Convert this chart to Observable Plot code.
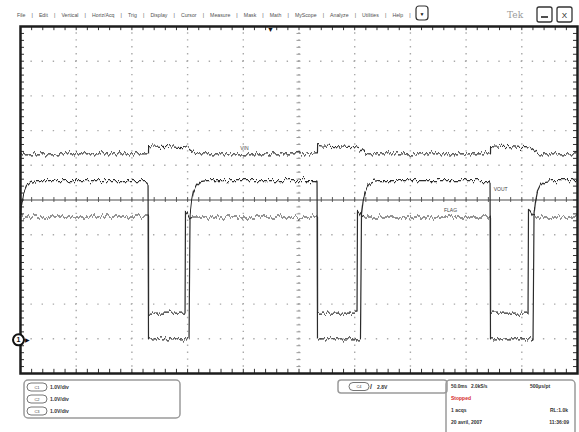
<!DOCTYPE html>
<html><head><meta charset="utf-8">
<script src="https://cdn.jsdelivr.net/npm/d3@7"></script>
<script src="https://cdn.jsdelivr.net/npm/@observablehq/plot@0.6"></script>
<style>
html,body{margin:0;padding:0;background:#fff;overflow:hidden}
#wrap{position:relative;width:579px;height:432px}
</style></head><body><div id="wrap"></div>
<script>
// ---- data (time in ms from left screen edge, 50 ms/div; level in graticule divisions from bottom) ----
const vinT  = [0,114.9,115.0,118,135,148.5,151,154,157.5,160, 266.6,266.7,270,287,302,304.5,307.5,310.5,313, 421.9,422.0,425,442,456,458.5,461.5,464.5,467,500];
const vinV  = [6.33,6.33,6.57,6.56,6.53,6.50,6.47,6.40,6.34,6.33, 6.33,6.57,6.56,6.53,6.50,6.47,6.40,6.34,6.33, 6.33,6.57,6.56,6.53,6.50,6.47,6.40,6.34,6.33,6.33];
const voutT = [0,0.9,2.7,5.4,9.0,14.4, 113.1,114.5,114.9,151.3,152.2,153.5,155.3,158.0,161.6,167.0, 265.2,266.2,266.6,305.2,306.1,307.5,309.3,312.0,315.5,321.0, 420.5,421.5,421.9,460.1,461.0,462.3,464.1,466.8,470.4,475.8, 500];
const voutV = [4.47,4.84,5.19,5.39,5.50,5.56, 5.56,5.50,1.00,1.00,4.60,4.95,5.24,5.42,5.53,5.56, 5.56,5.50,1.00,1.00,4.60,4.95,5.24,5.42,5.53,5.56, 5.56,5.50,1.00,1.00,4.60,4.95,5.24,5.42,5.53,5.56, 5.56];
const flagT = [0,114.9,115.0,147.7,148.1,149.5,151.5,154, 266.6,266.7,302.1,302.5,303.9,305.9,308.4, 421.9,422.0,455.6,456.0,457.4,459.4,461.9, 500];
const flagV = [4.51,4.51,1.74,1.74,4.70,4.66,4.55,4.51, 4.51,1.74,1.74,4.70,4.66,4.55,4.51, 4.51,1.74,1.74,4.70,4.66,4.55,4.51, 4.51];
const traceNames = ["VIN","VOUT","FLAG"];
const labelT = [201,431,386];
const labelV = [6.48,5.30,4.70];
const groundCh = "1";
const groundT = 0;
const groundV = 0.97;
const triggerT = 224.4;

const menuItems = ["File","Edit","Vertical","Horiz/Acq","Trig","Display","Cursor","Measure","Mask","Math","MyScope","Analyze","Utilities","Help"];
const chanNames = ["C1","C2","C3"];
const chanScales = ["1.0V/div","1.0V/div","1.0V/div"];
const trigChan = "C4";
const trigLevel = "2.8V";
const horizLeft = ["50.0ms","2.0kS/s"];
const horizRight = "500µs/pt";
const runState = "Stopped";
const acqRow = ["1 acqs","RL:1.0k"];
const dateRow = ["20 avril, 2007","11:36:09"];

// ---- tables ----
const toRows = (T,V) => T.map((t,i)=>({t, v:V[i]}));
const vin = toRows(vinT, vinV), vout = toRows(voutT, voutV), flag = toRows(flagT, flagV);
const labels = traceNames.map((n,i)=>({name:n, t:labelT[i], v:labelV[i]}));
const xMajor = d3.range(50, 500, 50);
const yMajor = d3.range(1, 10).filter(d => d !== 5);
const xMinor = d3.range(0, 500.01, 10);
const yMinor = d3.range(0, 50.01, 1).map(d => d/5);

const FONT = "Liberation Sans, Arial, sans-serif";
const trace = {x:"t", y:"v", stroke:"#2b2b2b", strokeWidth:1.2};

const plot = Plot.plot({
  width: 579, height: 432,
  marginLeft: 20, marginRight: 2, marginTop: 26, marginBottom: 59,
  x: {domain:[0,500], axis:null},
  y: {domain:[0,10], axis:null},
  style: {background:"white", fontFamily: FONT},
  marks: [
    Plot.ruleX(xMajor, {stroke:"#a9a9a9", strokeWidth:1.4, strokeDasharray:"1.4,5.54", strokeDashoffset:0.7}),
    Plot.ruleY(yMajor, {stroke:"#a9a9a9", strokeWidth:1.4, strokeDasharray:"1.4,9.74", strokeDashoffset:0.7}),
    Plot.ruleY([5], {stroke:"#4a4a4a", strokeWidth:1}),
    Plot.ruleX(xMinor, {y1: () => 4.93, y2: () => 5.07, stroke:"#555"}),
    Plot.ruleY(yMinor, {x1: () => 248.2, x2: () => 251.8, stroke:"#9a9a9a"}),
    Plot.ruleX(xMinor, {y1: () => 10, y2: () => 9.88, stroke:"#333"}),
    Plot.ruleX(xMinor, {y1: () => 0, y2: () => 0.12, stroke:"#333"}),
    Plot.ruleY(yMinor, {x1: () => 0, x2: () => 3.6, stroke:"#333"}),
    Plot.ruleY(yMinor, {x1: () => 500, x2: () => 496.4, stroke:"#333"}),
    Plot.line(vin, trace),
    Plot.line(vout, trace),
    Plot.line(flag, trace),
    Plot.frame({stroke:"#1c1c1c", strokeWidth:2.5}),
    Plot.text(labels, {x:"t", y:"v", text:"name", fontSize:5, fill:"#444"}),
    Plot.dot([groundCh], {x: () => groundT, y: () => groundV, r:5.5, dx:-2, fill:"white", stroke:"#111", strokeWidth:2}),
    Plot.text([groundCh], {x: () => groundT, y: () => groundV, text: d => d, dx:-2, fontSize:7, fontWeight:"bold", fill:"#111"}),
    Plot.text([groundCh], {x: () => groundT, y: () => groundV, text: () => "▶", dx:7, fontSize:6, fill:"#111"}),
    Plot.text([triggerT], {x: d => d, y: () => 10, text: () => "▼", dy:3, fontSize:7, fill:"#111"})
  ]
});
document.getElementById("wrap").append(plot);

// noisy acquisition look applied as a rendering style to the trace lines
const svg = d3.select(plot);
const defs = svg.insert("defs", ":first-child");
const f = defs.append("filter").attr("id","jit").attr("filterUnits","userSpaceOnUse")
  .attr("x",0).attr("y",0).attr("width",579).attr("height",432).attr("color-interpolation-filters","sRGB");
f.append("feTurbulence").attr("type","fractalNoise").attr("baseFrequency","0.45 0.03").attr("numOctaves",2).attr("seed",7).attr("result","n");
f.append("feColorMatrix").attr("in","n").attr("type","matrix").attr("values","0 0 0 0 0.5  0 1 0 0 0  0 0 0 0 0  0 0 0 0 1").attr("result","m");
f.append("feDisplacementMap").attr("in","SourceGraphic").attr("in2","m").attr("scale",9).attr("xChannelSelector","R").attr("yChannelSelector","G");
svg.selectAll('g[aria-label="line"]').attr("filter","url(#jit)");

// ---- instrument chrome ----
const ch = svg.append("g").attr("font-family", FONT).attr("text-anchor","start");
const menu = ch.append("text").attr("x",17).attr("y",16.5).attr("font-size",5.2).attr("fill","#505050").attr("text-anchor","start");
menuItems.forEach((m,i)=>{
  menu.append("tspan").attr("dx", i ? 6.1 : 0).text(m);
  menu.append("tspan").attr("dx", 6.1).text("|");
});
ch.append("rect").attr("x",416).attr("y",6).attr("width",12).attr("height",14).attr("rx",3).attr("fill","white").attr("stroke","#333").attr("stroke-width",1.2);
ch.append("text").attr("x",422).attr("y",15.5).attr("text-anchor","middle").attr("font-size",5).attr("fill","#111").text("▼");
ch.append("text").attr("x",507).attr("y",18).attr("text-anchor","start").attr("font-size",9).attr("font-family","DejaVu Serif, serif").attr("fill","#9a9a9a").text("Tek");
ch.append("rect").attr("x",537).attr("y",7).attr("width",15).attr("height",15).attr("rx",2).attr("fill","white").attr("stroke","#333").attr("stroke-width",1.3);
ch.append("line").attr("x1",541).attr("x2",548).attr("y1",17).attr("y2",17).attr("stroke","#222").attr("stroke-width",1.6);
ch.append("rect").attr("x",557).attr("y",7).attr("width",15).attr("height",15).attr("rx",2).attr("fill","white").attr("stroke","#333").attr("stroke-width",1.3);
ch.append("text").attr("x",564.5).attr("y",18).attr("text-anchor","middle").attr("font-size",8).attr("fill","#222").text("X");

function pill(x, y, label){
  ch.append("rect").attr("x",x).attr("y",y-4).attr("width",20).attr("height",8).attr("rx",4).attr("fill","white").attr("stroke","#666").attr("stroke-width",0.9);
  ch.append("text").attr("x",x+10).attr("y",y+1.5).attr("text-anchor","middle").attr("font-size",4).attr("fill","#444").text(label);
}
function txt(x, y, s, opt={}){
  ch.append("text").attr("x",x).attr("y",y).attr("font-size",opt.size||5).attr("font-weight","bold")
    .attr("text-anchor",opt.anchor||"start").attr("fill",opt.fill||"#333").text(s);
}
// channel panel
ch.append("rect").attr("x",24).attr("y",380).attr("width",156).attr("height",38).attr("rx",4).attr("fill","none").attr("stroke","#9a9a9a").attr("stroke-width",1.5);
chanNames.forEach((c,i)=>{ const y = 387 + i*12; pill(27, y, c); txt(50, y+2, chanScales[i]); });
// trigger panel
ch.append("rect").attr("x",338).attr("y",380).attr("width",109).attr("height",13).attr("rx",3).attr("fill","none").attr("stroke","#9a9a9a").attr("stroke-width",1.5);
pill(349, 386.5, trigChan);
txt(370, 389, "/", {size:7});
txt(377, 388.5, trigLevel);
// horizontal / acquisition panel
ch.append("rect").attr("x",446).attr("y",380).attr("width",129).attr("height",60).attr("rx",4).attr("fill","none").attr("stroke","#9a9a9a").attr("stroke-width",1.5);
txt(451, 388, horizLeft[0], {size:4.8}); txt(471, 388, horizLeft[1], {size:4.8}); txt(530, 388, horizRight);
txt(451, 400, runState, {fill:"#d42a2a"});
txt(451, 412, acqRow[0]); txt(568, 412, acqRow[1], {anchor:"end"});
txt(451, 424, dateRow[0]); txt(569, 424, dateRow[1], {anchor:"end"});
</script></body></html>
